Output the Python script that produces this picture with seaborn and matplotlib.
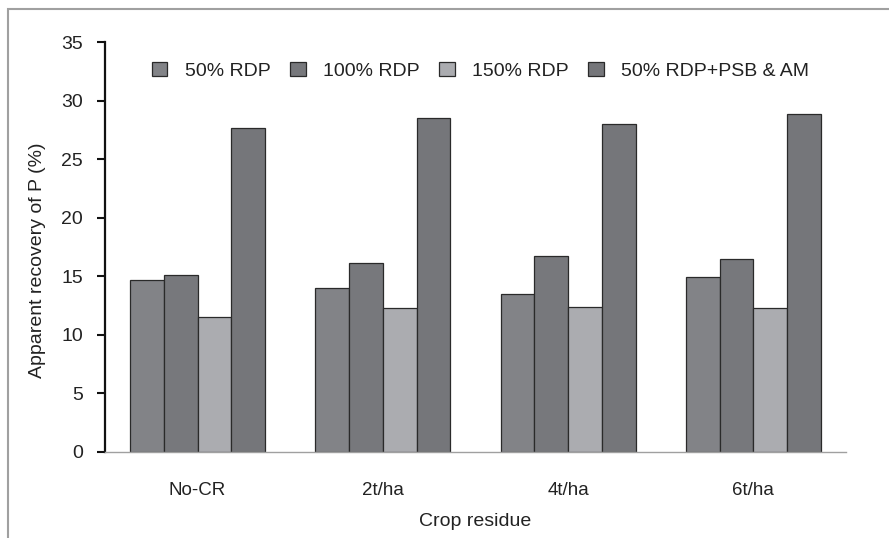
import matplotlib
matplotlib.use("Agg")
import matplotlib.pyplot as plt
import seaborn as sns
import pandas as pd
from matplotlib.patches import Rectangle

categories = ["No-CR", "2t/ha", "4t/ha", "6t/ha"]
series_names = ["50% RDP", "100% RDP", "150% RDP", "50% RDP+PSB & AM"]
v_50 = [14.65, 14.0, 13.5, 14.9]
v_100 = [15.1, 16.15, 16.75, 16.45]
v_150 = [11.55, 12.3, 12.35, 12.3]
v_am = [27.7, 28.55, 28.05, 28.85]
y_ticks = [0, 5, 10, 15, 20, 25, 30, 35]
colors = ["#828387", "#77787c", "#abacb0", "#75767a"]

rows = []
for name, vals in zip(series_names, [v_50, v_100, v_150, v_am]):
    for c, v in zip(categories, vals):
        rows.append({"Crop residue": c, "Treatment": name, "value": v})
df = pd.DataFrame(rows)

sns.set_style("white")
plt.rcParams["font.family"] = ["Liberation Sans", "DejaVu Sans"]

fig = plt.figure(figsize=(8.89, 5.38), dpi=100)
ax = fig.add_axes([105 / 889, 1 - 451.7 / 538, 741 / 889, 409.4 / 538])

sns.barplot(data=df, x="Crop residue", y="value", hue="Treatment",
            hue_order=series_names, order=categories, palette=colors,
            width=0.73, gap=0, edgecolor="#2a2a2a", linewidth=0.9,
            saturation=1, ax=ax, legend=True)

ax.set_ylim(0, 35)
ax.set_xlim(-0.5, 3.5)
ax.set_yticks(y_ticks)
ax.set_yticklabels([str(t) for t in y_ticks], fontsize=14, color="#222222")
ax.set_xticks(range(len(categories)))
ax.set_xticklabels(categories, fontsize=13.5, color="#222222")
ax.tick_params(axis="x", which="major", length=0, pad=22)
ax.set_xticks([-0.5, 0.5, 1.5, 2.5, 3.5], minor=True)
ax.tick_params(axis="x", which="minor", length=8, width=1, color="#a0a0a0", direction="out")
ax.tick_params(axis="y", which="major", length=6, width=1.5, color="#111111",
               direction="out", left=True, pad=10)

for s in ["top", "right"]:
    ax.spines[s].set_visible(False)
ax.spines["left"].set_color("#111111")
ax.spines["left"].set_linewidth(1.6)
ax.spines["bottom"].set_color("#a0a0a0")
ax.spines["bottom"].set_linewidth(1.0)

ax.set_xlabel("Crop residue", fontsize=14, color="#222222", labelpad=10)
ax.set_ylabel("Apparent recovery of P (%)", fontsize=14, color="#222222")
ax.yaxis.set_label_coords(-0.079, 0.468)

leg = ax.legend(loc="center", bbox_to_anchor=(0.507, 0.930), ncol=4, frameon=False,
                fontsize=14, handlelength=0.8, handleheight=0.7,
                handletextpad=0.9, columnspacing=1.0)
for t in leg.get_texts():
    t.set_color("#222222")

fig.patches.append(Rectangle((8 / 889, -0.1), 1.2, 1.1 - 9 / 538,
                             transform=fig.transFigure, fill=False,
                             edgecolor="#a0a0a0", linewidth=1.5, zorder=0))

fig.savefig("out.png", dpi=100)
